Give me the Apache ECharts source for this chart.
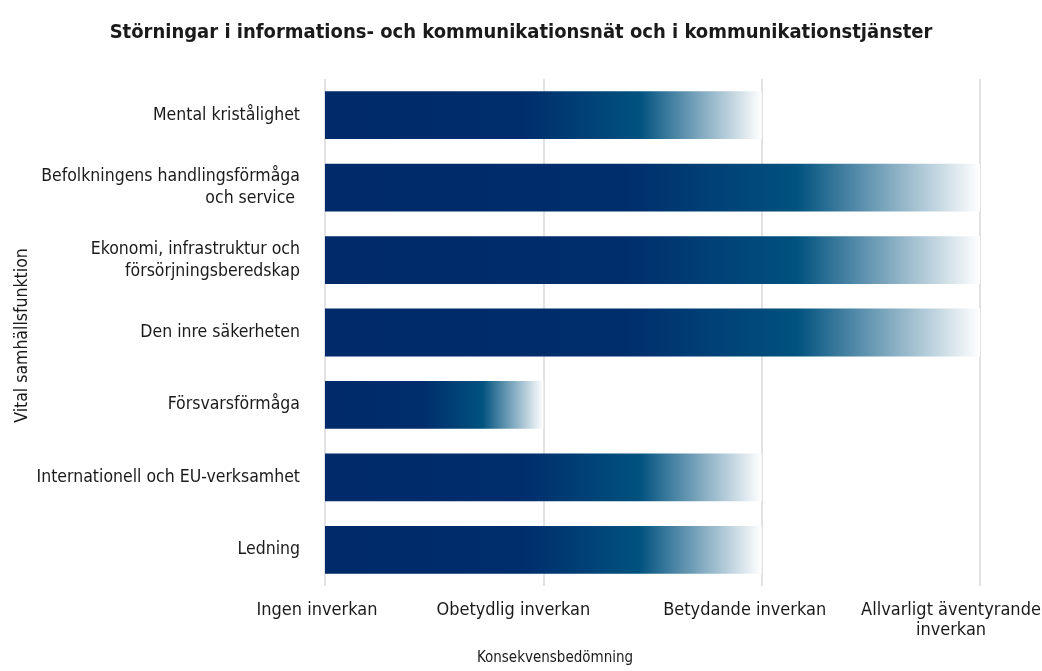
<!DOCTYPE html>
<html>
<head>
<meta charset="utf-8">
<script src="https://cdn.jsdelivr.net/npm/echarts@6/dist/echarts.min.js"></script>
<style>
  html, body { margin: 0; padding: 0; background: #fff; }
  #chart { width: 1042px; height: 671px; }
</style>
</head>
<body>
<div id="chart"></div>
<script>
const categories = [
  'Mental kristålighet',
  'Befolkningens handlingsförmåga\noch service ',
  'Ekonomi, infrastruktur och\nförsörjningsberedskap',
  'Den inre säkerheten',
  'Försvarsförmåga',
  'Internationell och EU-verksamhet',
  'Ledning'
]
const impactValues = [2, 3, 3, 3, 1, 2, 2]
const tickLabels = ['Ingen inverkan', 'Obetydlig inverkan', 'Betydande inverkan', 'Allvarligt äventyrande\ninverkan']

const FONT = '"Liberation Sans Narrow", "DejaVu Sans Condensed", sans-serif'

const barGradient = new echarts.graphic.LinearGradient(0, 0, 1, 0, [
  { offset: 0, color: '#002a6a' },
  { offset: 0.45, color: '#002d6c' },
  { offset: 0.72, color: '#00527f' },
  { offset: 1, color: '#ffffff' }
])

// tick labels sit a little left of their ticks in the original
// (kept small enough that neighbouring label boxes don't overlap)
const labelShift = [16, 60, 34, 58]
const rich = {}
labelShift.forEach((p, i) => {
  rich['t' + i] = { fontSize: 18, lineHeight: 20, color: '#1a1a1a', fontFamily: FONT, padding: [0, p, 0, 0] }
})

const chart = echarts.init(document.getElementById('chart'))

chart.setOption({
  backgroundColor: '#ffffff',
  animation: false,
  textStyle: { fontFamily: FONT },
  title: {
    text: 'Störningar i informations- och kommunikationsnät och i kommunikationstjänster',
    left: 'center',
    top: 18,
    textStyle: { fontFamily: FONT, fontSize: 20, fontWeight: 'bold', color: '#1a1a1a' }
  },
  grid: { left: 325, right: 62, top: 79, bottom: 85, outerBoundsMode: 'none' },
  xAxis: {
    type: 'value',
    min: 0,
    max: 3,
    interval: 1,
    axisLine: { show: false },
    axisTick: { show: false },
    splitLine: { lineStyle: { color: '#d9d9d9', width: 1.5 } },
    axisLabel: {
      margin: 14,
      fontSize: 18,
      color: '#1a1a1a',
      lineHeight: 20,
      fontFamily: FONT,
      hideOverlap: false,
      showMinLabel: true,
      showMaxLabel: true,
      formatter: v => tickLabels[v].split('\n').map(line => '{t' + v + '|' + line + '}').join('\n'),
      rich: rich
    }
  },
  yAxis: {
    type: 'category',
    data: categories,
    inverse: true,
    axisLine: { show: false },
    axisTick: { show: false },
    axisLabel: {
      margin: 25,
      fontSize: 17.5,
      lineHeight: 22,
      color: '#1a1a1a',
      fontFamily: FONT,
      align: 'right'
    }
  },
  graphic: [
    {
      type: 'text',
      x: 555,
      y: 651,
      style: {
        text: 'Konsekvensbedömning',
        font: '15px ' + FONT,
        fill: '#1a1a1a',
        align: 'center'
      }
    },
    {
      type: 'text',
      left: 13,
      top: 'middle',
      rotation: Math.PI / 2,
      style: {
        text: 'Vital samhällsfunktion',
        font: '17.5px ' + FONT,
        fill: '#1a1a1a'
      }
    }
  ],
  series: [
    {
      type: 'bar',
      data: impactValues,
      barCategoryGap: '34%',
      itemStyle: { color: barGradient },
      silent: true
    }
  ]
})
</script>
</body>
</html>
